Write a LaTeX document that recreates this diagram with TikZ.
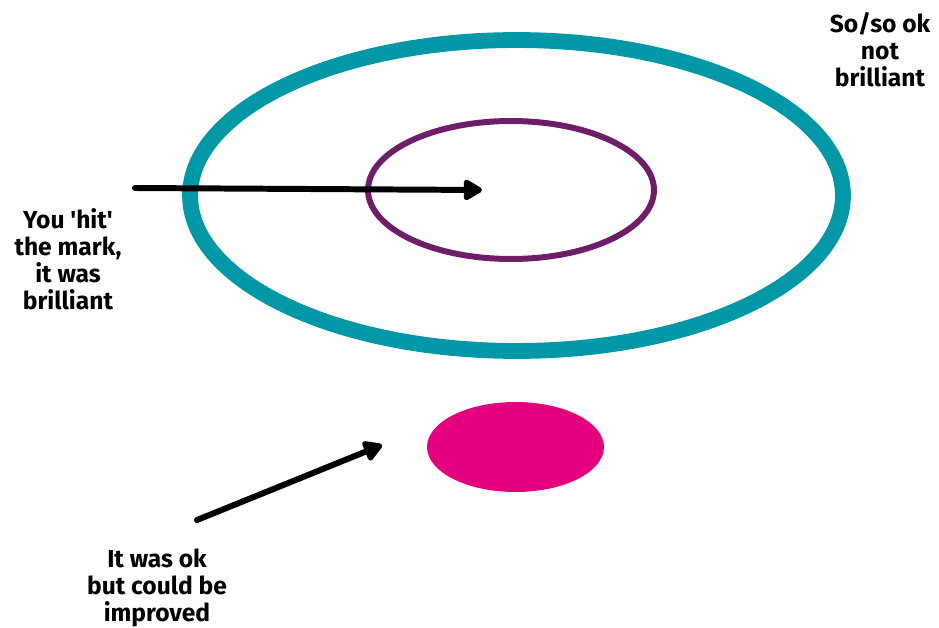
\documentclass[tikz,border=0pt]{standalone}
\usepackage{fontspec}
\setmainfont{Fira Sans}
\usepackage{tikz}
\usetikzlibrary{arrows.meta,positioning,shapes.geometric}
\definecolor{targetteal}{HTML}{0097A7}
\definecolor{targetpurple}{HTML}{6C1F68}
\definecolor{targetpink}{HTML}{E5007E}

\begin{document}
\begin{tikzpicture}[
  x=0.02cm, y=-0.02cm,
  ring/.style={
    ellipse,
    inner sep=0pt
  },
  label/.style={
    align=center,
    font=\bfseries\fontsize{14}{15.3}\selectfont
  },
  pointer/.style={-{Triangle[length=4.2mm,width=4.6mm,round]}, line width=3.4pt, line cap=round, black}
]
\useasboundingbox (0,0) rectangle (939,628);

% target rings
\node[ring, draw=targetteal, line width=9pt, minimum width=13.06cm, minimum height=6.22cm] (outer) at (516.5,195.5) {};
\node[ring, draw=targetpurple, line width=3.4pt, minimum width=5.72cm, minimum height=2.76cm] (inner) at (511,190) {};
\node[ring, fill=targetpink, minimum width=3.54cm, minimum height=1.8cm] (miss) at (515.5,447) {};

% labels
\node[label] (sosotext) at (880,50) {So/so ok\\not\\brilliant};
\node[label] (hittext) at (68,259) {You \textquotesingle hit\textquotesingle\\the mark,\\it was\\brilliant};
\node[label] (oktext) at (157,588) {It was ok\\but could be\\improved};

% arrows
\coordinate (hitstart) at (135,188);
\coordinate (hitend) at (482,190);
\coordinate (okstart) at (197,520);
\coordinate (okend) at (382,445);
\draw[pointer] (hitstart) -- (hitend);
\draw[pointer] (okstart) -- (okend);

\end{tikzpicture}
\end{document}
